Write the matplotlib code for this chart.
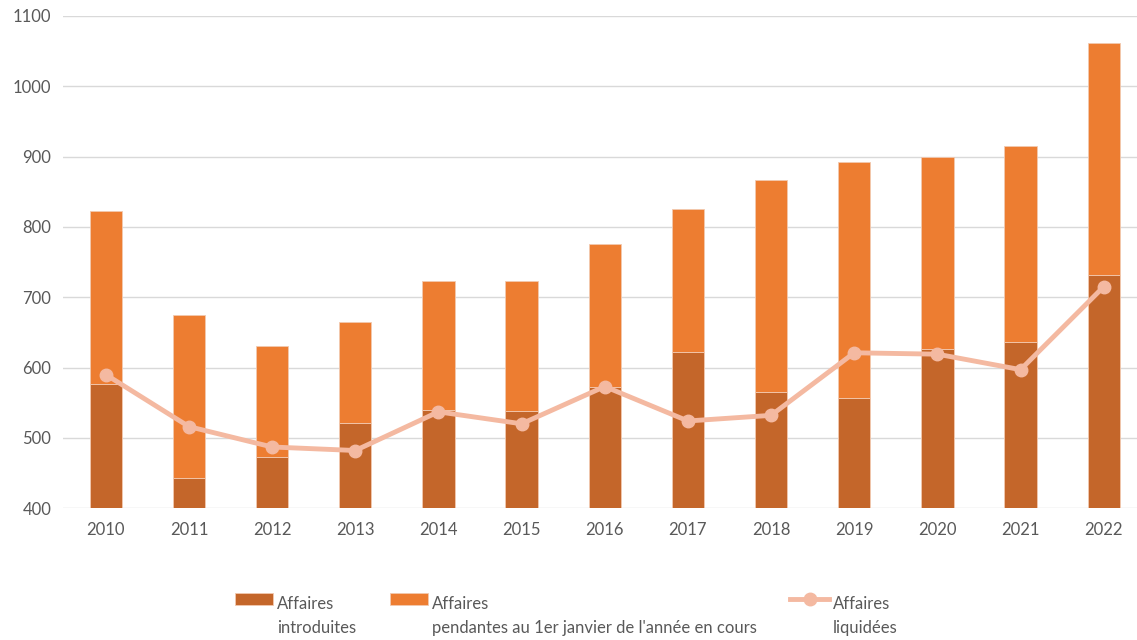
import matplotlib.pyplot as plt
from matplotlib.legend_handler import HandlerPatch, HandlerLine2D
from matplotlib.transforms import Affine2D
import numpy as np

plt.rcParams['font.family'] = ['Lato', 'DejaVu Sans']

# Données
annees = ['2010', '2011', '2012', '2013', '2014', '2015', '2016',
          '2017', '2018', '2019', '2020', '2021', '2022']
introduites = [576, 443, 473, 521, 539, 538, 572, 622, 565, 557, 627, 636, 732]
totaux = [823, 675, 631, 665, 723, 723, 776, 825, 867, 892, 899, 915, 1061]
pendantes = [t - i for t, i in zip(totaux, introduites)]
liquidees = [590, 516, 487, 482, 537, 520, 573, 524, 532, 621, 619, 597, 715]

c_intro = '#C4662A'
c_pend = '#ED7D31'
c_liq = '#F4B9A1'
c_txt = '#595959'

DY = 12.5  # décalage des symboles de légende vers la 1re ligne (points)


class PatchHaut(HandlerPatch):
    def create_artists(self, legend, orig_handle, xdescent, ydescent,
                       width, height, fontsize, trans):
        t = Affine2D().translate(0, DY) + trans
        return super().create_artists(legend, orig_handle, xdescent, ydescent,
                                      width, height, fontsize, t)


class LigneHaut(HandlerLine2D):
    def create_artists(self, legend, orig_handle, xdescent, ydescent,
                       width, height, fontsize, trans):
        t = Affine2D().translate(0, DY) + trans
        return super().create_artists(legend, orig_handle, xdescent, ydescent,
                                      width, height, fontsize, t)


def premier_patch(h, o):
    h.update_from(o.patches[0])


fig, ax = plt.subplots(figsize=(11.37, 6.4), dpi=100)
fig.subplots_adjust(left=0.055, right=1.0, top=0.975, bottom=0.206)

x = np.arange(len(annees))
w = 0.39
b1 = ax.bar(x, introduites, w, color=c_intro, edgecolor='#F2C9B0', linewidth=0.6,
            label='Affaires\nintroduites', zorder=2)
b2 = ax.bar(x, pendantes, w, bottom=introduites, color=c_pend, edgecolor='#F2C9B0',
            linewidth=0.6, label="Affaires\npendantes au 1er janvier de l'année en cours",
            zorder=2)
l1, = ax.plot(x, liquidees, color=c_liq, lw=3.5, marker='o', ms=9,
              label='Affaires\nliquidées', zorder=3)

ax.set_ylim(400, 1100)
ax.set_yticks(range(400, 1101, 100))
ax.set_xlim(-0.52, 12.4)
ax.set_xticks(x)
ax.set_xticklabels(annees)
ax.yaxis.grid(True, color='#D9D9D9', lw=1, zorder=0)
for s in ax.spines.values():
    s.set_visible(False)
ax.tick_params(length=0, colors=c_txt, labelsize=12)
ax.tick_params(axis='x', pad=10)
ax.tick_params(axis='y', pad=8)

leg = fig.legend(handles=[b1, b2, l1], loc='lower left', bbox_to_anchor=(0.1935, -0.017),
                 ncol=3, frameon=False, fontsize=12, labelcolor=c_txt,
                 handlelength=2.3, handletextpad=0.24, columnspacing=2.0,
                 handler_map={b1: PatchHaut(update_func=premier_patch),
                              b2: PatchHaut(update_func=premier_patch),
                              l1: LigneHaut()})
for t in leg.get_texts():
    t.set_linespacing(1.6)

plt.savefig('out.png', dpi=100)
plt.close()
